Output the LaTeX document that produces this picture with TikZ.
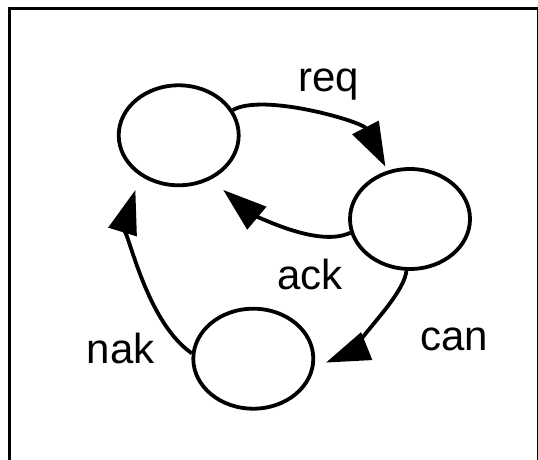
\documentclass[tikz,border=0pt]{standalone}
\usepackage{fontspec}
\setmainfont{Liberation Sans}
\usetikzlibrary{shapes.geometric,arrows.meta}

\begin{document}
\begin{tikzpicture}[
  x=1pt, y=1pt,
  font=\fontsize{42}{48}\selectfont,
  state/.style={draw, ellipse, line width=3.8pt, minimum width=120pt, minimum height=100pt, inner sep=0pt},
  arr/.style={-{Triangle[length=44pt,width=29pt]}, line width=3.8pt},
  lbl/.style={anchor=base, inner sep=0pt}
]
  \useasboundingbox (0,0) rectangle (538,460);
  % frame
  \draw[line width=3.5pt] (9.5,0) -- (9.5,451.5) -- (537,451.5);
  \draw[line width=1pt] (537,453.25) -- (537,0);

  \node[state] (st1) at (178.7,324.7) {};
  \node[state] (st2) at (410,241) {};
  \node[state] (st3) at (253.3,101.3) {};

  \draw[arr, shorten >=4.5pt] (st1.25) to[out=30, out distance=35pt, in=117, in distance=55pt] (st2.115);
  \draw[arr, shorten >=16pt] (st2.193) to[out=205, out distance=40pt, in=-40, in distance=45pt] (st1.-54);
  \draw[arr, shorten >=12.5pt] (st2.-94) to[out=-95, out distance=30pt, in=22, in distance=20pt] (st3.-8);
  \draw[arr, shorten >=15pt] (st3.175) to[out=145, out distance=60pt, in=-107, in distance=45pt] (st1.-134);

  \node[lbl] (req) at (329,368.3) {req};
  \node[lbl] (ack) at (310,170.7) {ack};
  \node[lbl] (can) at (454.2,109) {can};
  \node[lbl] (nak) at (120.8,96.7) {nak};
\end{tikzpicture}
\end{document}
